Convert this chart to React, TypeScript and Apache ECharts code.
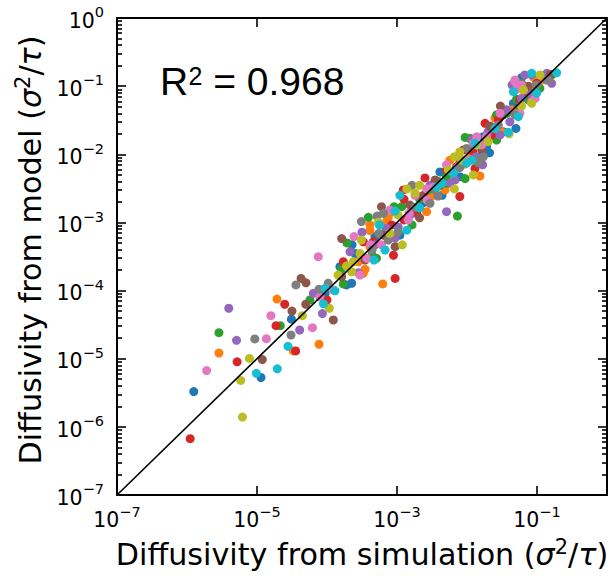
import React, { useEffect, useRef } from 'react';
import * as echarts from 'echarts';

// Tick positions (powers of ten)
const xTickValues = [1e-7, 1e-5, 1e-3, 1e-1];
const yTickValues = [1e-7, 1e-6, 1e-5, 1e-4, 1e-3, 1e-2, 1e-1, 1];
const minorMultipliers = [2, 3, 4, 5, 6, 7, 8, 9];
const axisRange = [1e-7, 1];

// Scatter data: [diffusivity from simulation, diffusivity from model]
const blue: [number, number][] = [
  [1.25e-6, 3.3e-6], [1.14e-5, 5.3e-6], [3.1e-5, 3.8e-5], [9.4e-5, 9.1e-5], [1.9e-4, 1.21e-4],
  [2.25e-4, 1.28e-4], [1.53e-4, 2.24e-4], [2.51e-4, 3.5e-4], [4.85e-4, 6.2e-4], [1.1e-3, 6.5e-4],
  [7.1e-4, 1.29e-3], [2.4e-3, 1.95e-3], [4.4e-3, 2.5e-3], [3.1e-3, 2.8e-3], [4.1e-3, 5.5e-3],
  [1.1e-2, 8.7e-3], [2.1e-2, 1.05e-2], [1.9e-2, 1.29e-2], [5.0e-2, 2.4e-2], [3.3e-2, 2.14e-2],
  [3.3e-2, 3.8e-2], [4.85e-2, 4.5e-2], [6.0e-2, 1.33e-1], [4.6e-2, 5.6e-2], [9.4e-2, 9.3e-2],
  [7.3e-4, 6.1e-4], [7.1e-2, 7.0e-2], [1.71e-2, 1.81e-2], [7.9e-3, 4.7e-3], [2.28e-4, 4.7e-4],
];
const orange: [number, number][] = [
  [2.86e-6, 1.21e-5], [3.3e-5, 1.3e-5], [7.7e-5, 1.63e-5], [1.93e-5, 7.5e-5], [6.25e-4, 1.25e-4],
  [3.5e-4, 2.05e-4], [3.3e-4, 1.79e-4], [4.1e-4, 7.6e-4], [4.1e-4, 4.4e-4], [4.1e-4, 9.2e-4],
  [7.1e-4, 1.03e-3], [7.5e-4, 1.19e-3], [8.9e-4, 1.44e-3], [2.65e-3, 1.44e-3], [3.1e-3, 2.4e-3],
  [1.1e-2, 9.2e-3], [9.4e-3, 7.2e-3], [1.53e-2, 4.8e-3], [7.9e-3, 8.7e-3], [3.1e-2, 2.14e-2],
  [2.51e-2, 3.4e-2], [8.9e-2, 1.35e-1], [8.4e-2, 8.8e-2], [1.17e-1, 1.23e-1], [4.4e-2, 4.5e-2],
  [5.7e-3, 8.2e-3], [4.85e-3, 3.0e-3], [2.8e-4, 2.65e-4],
];
const green: [number, number][] = [
  [2.86e-6, 2.41e-5], [2.15e-5, 3.05e-5], [1.71e-4, 1.25e-4], [1.62e-4, 2.1e-4], [1.93e-4, 5.0e-4],
  [3.9e-4, 1.19e-3], [1.17e-3, 1.7e-3], [5.1e-4, 2.97e-4], [4.4e-4, 3.3e-4], [7.0e-4, 7.9e-4],
  [9.1e-4, 1.7e-3], [2.1e-3, 2.2e-3], [7.3e-3, 1.24e-3], [5.1e-3, 4.7e-3], [5.1e-3, 3.75e-3],
  [2.8e-3, 3.0e-3], [3.9e-3, 4.0e-3], [9.4e-3, 1.77e-2], [1.1e-2, 1.72e-2], [2.65e-2, 1.62e-2],
  [2.65e-2, 3.8e-2], [3.7e-2, 4.0e-2], [1.62e-1, 1.46e-1], [7.5e-2, 6.3e-2], [6.0e-2, 1.1e-1],
  [5.1e-2, 6.4e-2], [9.4e-3, 4.4e-3], [1.1e-1, 9.3e-2], [2.13e-2, 2.55e-2], [1.53e-2, 9.2e-3],
  [1.64e-3, 9.2e-4], [5.7e-5, 7.3e-5],
];
const red: [number, number][] = [
  [1.11e-6, 6.7e-7], [5.2e-6, 9.0e-6], [3.57e-5, 1.3e-5], [1.87e-5, 3.05e-5], [2.49e-5, 6.3e-5],
  [1.71e-4, 2.65e-4], [9.4e-4, 1.51e-4], [8.9e-4, 3.3e-4], [3.3e-4, 5.2e-4], [4.6e-4, 5.2e-4],
  [8.4e-4, 9.2e-4], [1.91e-3, 1.36e-3], [1.26e-3, 2.18e-3], [2.4e-3, 2.5e-3], [1.23e-3, 3.0e-3],
  [7.9e-3, 2.4e-3], [1.3e-2, 6.2e-3], [1.21e-2, 1.12e-2], [8.9e-3, 1.16e-2], [7.9e-3, 7.4e-3],
  [1.81e-2, 2.85e-2], [2.8e-2, 3.2e-2], [9.9e-2, 1.1e-1], [6.7e-2, 8.3e-2], [5.7e-2, 6.3e-2],
  [2.25e-2, 1.92e-2], [5.1e-3, 5.9e-3], [1.26e-3, 1.09e-3], [1.0e-4, 7.3e-5], [2.51e-3, 4.5e-3],
];
const purple: [number, number][] = [
  [3.95e-6, 5.5e-5], [5.1e-6, 1.86e-5], [4.07e-5, 2.64e-5], [6.37e-5, 9.1e-5], [8.6e-5, 4.6e-5],
  [2.13e-4, 3.7e-4], [2.8e-4, 1.83e-4], [7.1e-4, 8.2e-4], [1.04e-3, 8.6e-4], [4.85e-4, 4.7e-4],
  [5.1e-3, 1.44e-3], [2.96e-3, 3.5e-3], [5.7e-3, 3.75e-3], [1.67e-2, 7.0e-3], [1.35e-2, 9.2e-3],
  [6.4e-3, 5.5e-3], [2.96e-2, 1.92e-2], [2.0e-2, 2.14e-2], [3.7e-2, 4.5e-2], [6.7e-2, 1.46e-1],
  [8.4e-2, 1.46e-1], [7.9e-2, 7.9e-2], [6.0e-2, 6.6e-2], [1.38e-1, 1.23e-1], [1.62e-1, 1.1e-1],
  [1.38e-1, 1.54e-1], [4.4e-2, 1.04e-1], [4.1e-2, 3.0e-2], [1.17e-2, 1.62e-2], [1.53e-3, 1.29e-3],
  [9.4e-4, 5.9e-4], [3.16e-4, 7.2e-4], [6.75e-3, 4.2e-3],
];
const brown: [number, number][] = [
  [1.19e-5, 9.7e-6], [4.97e-5, 6.3e-5], [3.16e-5, 5.0e-5], [4.26e-5, 1.51e-4], [5.0e-5, 1.3e-4],
  [1.23e-4, 3.7e-5], [1.62e-4, 1.6e-4], [1.62e-4, 5.8e-4], [6.0e-4, 1.7e-3], [9.4e-4, 4.4e-4],
  [6.4e-4, 6.5e-4], [1.53e-3, 1.8e-3], [2.25e-3, 2.4e-3], [4.1e-3, 3.5e-3], [3.5e-3, 4.2e-3],
  [2.1e-3, 1.17e-3], [1.62e-2, 1.16e-2], [2.13e-2, 2.6e-2], [3.0e-2, 5.1e-2], [7.5e-2, 1.0e-1],
  [1.55e-1, 1.5e-1], [7.1e-3, 6.6e-3], [3.5e-4, 2.8e-4],
];
const pink: [number, number][] = [
  [1.91e-6, 6.7e-6], [1.36e-5, 1.97e-5], [6.2e-5, 2.85e-5], [1.58e-5, 4.28e-5], [7.5e-5, 3.14e-4],
  [7.9e-5, 8.1e-5], [2.43e-4, 6.2e-4], [2.96e-4, 1.69e-4], [6.0e-4, 4.7e-4], [3.7e-4, 2.97e-4],
  [4.2e-4, 4.7e-4], [1.48e-3, 1.36e-3], [1.45e-3, 1.09e-3], [1.81e-3, 2.5e-3], [2.65e-3, 3.1e-3],
  [3.3e-3, 3.3e-3], [5.1e-3, 7.0e-3], [1.23e-2, 1.45e-2], [1.9e-2, 1.81e-2], [1.38e-2, 1.81e-2],
  [1.62e-2, 1.37e-2], [7.5e-3, 6.6e-3], [5.7e-2, 4.0e-2], [8.4e-2, 5.9e-2], [4.85e-2, 1.16e-1],
  [5.1e-2, 9.0e-2], [6.0e-2, 1.04e-1], [4.85e-2, 1.23e-1], [9.4e-2, 6.6e-2], [2.96e-2, 4.0e-2],
  [1.04e-2, 8.2e-3], [2.69e-3, 2.13e-3], [1.23e-4, 1.02e-4], [7.9e-4, 1.52e-3],
];
const gray: [number, number][] = [
  [9.3e-6, 1.95e-5], [3.06e-5, 2.23e-5], [3.6e-5, 1.21e-4], [7.7e-5, 1.05e-4], [1.04e-4, 1.28e-4],
  [3.1e-4, 1.03e-3], [5.2e-4, 1.24e-3], [6.4e-4, 1.36e-3], [5.5e-4, 6.9e-4], [7.5e-4, 5.5e-4],
  [1.04e-3, 7.3e-4], [1.81e-3, 1.67e-3], [2.96e-3, 1.91e-3], [3.5e-3, 3.0e-3], [6.4e-3, 5.5e-3],
  [7.9e-3, 6.4e-3], [9.9e-3, 1.22e-2], [1.38e-2, 1.37e-2], [1.45e-2, 7.5e-3], [1.3e-2, 8.2e-3],
  [1.71e-2, 9.2e-3], [4.85e-2, 3.8e-2], [1.45e-1, 1.23e-1], [9.9e-2, 1.04e-1], [2.8e-2, 2.69e-2],
  [3.85e-3, 2.44e-3], [4.4e-4, 3.94e-4], [1.64e-3, 3.5e-3],
];
const olive: [number, number][] = [
  [6.2e-6, 1.39e-6], [5.85e-6, 4.8e-6], [7.8e-6, 1.01e-5], [4.44e-5, 4.28e-5], [1.08e-4, 5.5e-5],
  [1.9e-4, 2.29e-4], [2.38e-4, 2.65e-4], [2.25e-4, 1.89e-4], [2.96e-4, 3.5e-4], [3.1e-4, 5.5e-4],
  [1.19e-3, 4.7e-4], [7.9e-4, 6.9e-4], [1.38e-3, 3.1e-3], [1.81e-3, 2.7e-3], [2.1e-3, 3.5e-3],
  [6.6e-3, 3.1e-3], [6.6e-3, 9.2e-3], [8.4e-3, 8.2e-3], [2.0e-2, 1.53e-2], [4.0e-2, 2.0e-2],
  [6.0e-2, 5.1e-2], [8.4e-2, 5.6e-2], [1.1e-1, 1.46e-1], [7.9e-3, 1.09e-2], [6.4e-2, 8.8e-2],
  [1.38e-2, 1.37e-2], [1.23e-2, 4.97e-3], [1.03e-3, 1.29e-3], [1.44e-4, 1.69e-4], [5.4e-4, 1.01e-3],
  [5.4e-3, 5.9e-3],
];
const cyan: [number, number][] = [
  [9.8e-6, 6.1e-6], [1.95e-5, 7.1e-6], [2.77e-5, 1.52e-5], [8.9e-5, 6.4e-5], [1.3e-4, 9.9e-5],
  [9.4e-5, 1.08e-4], [4.7e-4, 2.8e-4], [5.6e-4, 9.2e-4], [9.4e-4, 1.47e-3], [1.38e-3, 7.7e-4],
  [3.7e-3, 3.3e-3], [4.4e-3, 3.75e-3], [9.9e-3, 7.4e-3], [1.3e-2, 1.45e-2], [6.4e-3, 5.3e-3],
  [3.9e-2, 2.1e-2], [2.51e-2, 2.4e-2], [1.17e-2, 8.2e-3], [1.91e-1, 1.57e-1], [4.6e-2, 8.3e-2],
  [9.9e-2, 7.9e-2], [8.4e-2, 1.54e-1], [5.4e-2, 3.56e-2], [2.1e-3, 1.63e-3], [6.75e-4, 3.94e-4],
  [1.1e-3, 2.5e-3],
];

const groups = [blue, orange, green, red, purple, brown, pink, gray, olive, cyan];
const colors = [
  '#1f77b4', '#ff7f0e', '#2ca02c', '#d62728', '#9467bd',
  '#8c564b', '#e377c2', '#7f7f7f', '#bcbd22', '#17becf',
];

const r2Value = '0.968';

const yMinorValues: number[] = [];
yTickValues.slice(0, -1).forEach((d) => minorMultipliers.forEach((m) => yMinorValues.push(d * m)));

const expLabel = (v: number) => {
  const e = Math.round(Math.log10(v));
  return '{b|10}{s|' + (e < 0 ? '\u2212' + -e : String(e)) + '}';
};

const labelRich = {
  b: { fontSize: 20.5, fontFamily: 'DejaVu Sans', color: '#000', lineHeight: 26.5, verticalAlign: 'bottom' },
  s: { fontSize: 14.5, fontFamily: 'DejaVu Sans', color: '#000', verticalAlign: 'top' },
};

const lineStyle = { color: '#000', width: 2 };
const tickLine = { color: '#000', width: 1.6 };

const titleRich = {
  n: { fontSize: 30.2, fontFamily: 'DejaVu Sans', fill: '#000', lineHeight: 33, verticalAlign: 'bottom' },
  i: { fontSize: 30.2, fontFamily: 'DejaVu Sans', fontStyle: 'italic', fill: '#000', lineHeight: 33, verticalAlign: 'bottom' },
  s: { fontSize: 21, fontFamily: 'DejaVu Sans', fill: '#000', verticalAlign: 'top' },
};

function makeAxis(kind: 'x' | 'y', position: string, ticks: number[], tickLen: number, showLine: boolean, labels: boolean) {
  return {
    type: 'log',
    logBase: 10,
    min: axisRange[0],
    max: axisRange[1],
    position,
    axisLine: { show: showLine, onZero: false, lineStyle },
    axisTick: { show: true, inside: true, length: tickLen, lineStyle: tickLine, customValues: ticks },
    axisLabel: labels
      ? {
          show: true,
          customValues: ticks,
          margin: kind === 'x' ? 9 : 13,
          formatter: expLabel,
          rich: labelRich,
          showMinLabel: true,
          showMaxLabel: true,
          hideOverlap: false,
        }
      : { show: false },
    splitLine: { show: false },
    minorTick: { show: false },
    minorSplitLine: { show: false },
  };
}

export default function App() {
  const ref = useRef<HTMLDivElement>(null);
  useEffect(() => {
    if (!ref.current) return;
    const chart = echarts.init(ref.current, undefined, { renderer: 'svg' });
    const scatterSeries = groups.map((g, i) => ({
      type: 'scatter',
      xAxisIndex: 0,
      yAxisIndex: 0,
      data: g,
      symbol: 'circle',
      symbolSize: 9,
      itemStyle: { color: colors[i], opacity: 1 },
      z: 2,
    }));
    chart.setOption({
      animation: false,
      grid: { left: 117, top: 18, width: 490, height: 477, containLabel: false, outerBoundsMode: 'none' },
      xAxis: [
        makeAxis('x', 'bottom', xTickValues, 9, true, true),
        makeAxis('x', 'top', xTickValues, 9, true, false),
      ],
      yAxis: [
        makeAxis('y', 'left', yTickValues, 9, true, true),
        makeAxis('y', 'left', yMinorValues, 5, false, false),
        makeAxis('y', 'right', yTickValues, 9, true, false),
        makeAxis('y', 'right', yMinorValues, 5, false, false),
      ],
      series: [
        ...scatterSeries,
        {
          type: 'line',
          xAxisIndex: 0,
          yAxisIndex: 0,
          data: [[axisRange[0], axisRange[0]], [axisRange[1], axisRange[1]]],
          showSymbol: false,
          symbol: 'none',
          lineStyle: { color: '#000', width: 1.6 },
          z: 5,
          silent: true,
        },
      ],
      graphic: [
        { type: 'text', x: 160, y: 81, style: { text: 'R', fontSize: 39, fontFamily: 'Liberation Sans', fill: '#000', align: 'left', verticalAlign: 'middle' } },
        { type: 'text', x: 188.5, y: 76, style: { text: '2', fontSize: 25, fontFamily: 'Liberation Sans', fill: '#000', align: 'left', verticalAlign: 'middle' } },
        { type: 'text', x: 202.4, y: 81, style: { text: ' = ' + r2Value, fontSize: 39, fontFamily: 'Liberation Sans', fill: '#000', align: 'left', verticalAlign: 'middle' } },
        {
          type: 'text', x: 362, y: 553,
          style: { text: '{n|Diffusivity from simulation (}{i|\u03c3}{s|2}{n|/}{i|\u03c4}{n|)}', rich: titleRich, align: 'center', verticalAlign: 'middle' },
        },
        {
          type: 'text', x: 29, y: 250, rotation: Math.PI / 2,
          style: { text: '{n|Diffusivity from model (}{i|\u03c3}{s|2}{n|/}{i|\u03c4}{n|)}', rich: titleRich, align: 'center', verticalAlign: 'middle' },
        },
      ],
    });
    return () => chart.dispose();
  }, []);
  return <div ref={ref} style={{ position: 'fixed', left: 0, top: 0, width: 613, height: 576, background: '#fff' }} />;
}
